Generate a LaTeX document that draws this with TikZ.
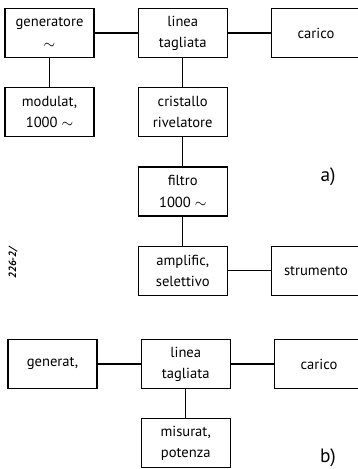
\documentclass[tikz,border=0pt]{standalone}
\usepackage{fontspec}
\setsansfont{PT Sans}
\usetikzlibrary{positioning}

\begin{document}
\begin{tikzpicture}[node distance=0.58cm and 0.86cm]
  \tikzstyle{block} = [rectangle, draw, line width=0.7pt, minimum width=1.78cm, minimum height=0.98cm, align=center, inner sep=1pt, font=\sffamily\fontsize{8.3}{12}\selectfont]
  \tikzstyle{link} = [line width=0.7pt]
  \tikzstyle{tag} = [font=\sffamily\fontsize{11}{12}\selectfont]

  \useasboundingbox (0,0) rectangle (7.16,-9.38);

  % schema a)
  \node [block] (gen) at (0.99,-0.66) {generatore\\$\sim$};
  \node [block, right=of gen] (linea) {linea\\tagliata};
  \node [block, right=of linea] (carico) {carico};
  \node [block, below=of gen] (modul) {modulat,\\1000 $\sim$};
  \node [block, below=of linea] (crist) {cristallo\\rivelatore};
  \node [block, below=of crist] (filtro) {filtro\\1000 $\sim$};
  \node [block, below=of filtro] (ampl) {amplific,\\selettivo};
  \node [block, right=of ampl] (strum) {strumento};

  \draw[link] (gen) -- (linea);
  \draw[link] (linea) -- (carico);
  \draw[link] (gen) -- (modul);
  \draw[link] (linea) -- (crist);
  \draw[link] (crist) -- (filtro);
  \draw[link] (filtro) -- (ampl);
  \draw[link] (ampl) -- (strum);

  \node [tag] (la) at (6.56,-3.54) {a)};
  \node [rotate=90, font=\sffamily\bfseries\itshape\fontsize{6}{7}\selectfont] (ref) at (0.26,-5.26) {226-2/};

  % schema b)
  \node [block] (genb) at (1.05,-7.28) {generat,};
  \node [block, right=of genb] (lineab) {linea\\tagliata};
  \node [block, right=of lineab] (caricob) {carico};
  \node [block, below=of lineab] (misur) {misurat,\\potenza};

  \draw[link] (genb) -- (lineab);
  \draw[link] (lineab) -- (caricob);
  \draw[link] (lineab) -- (misur);

  \node [tag] (lb) at (6.56,-9.16) {b)};
\end{tikzpicture}
\end{document}
